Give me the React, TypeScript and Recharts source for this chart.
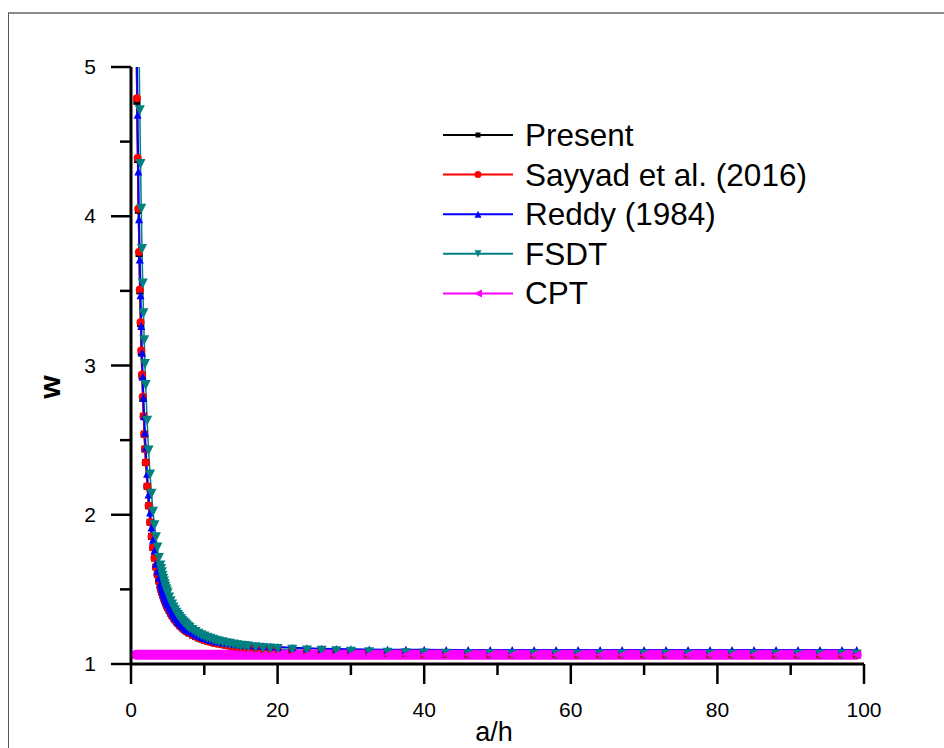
import React from "react";
import { LineChart, Line, XAxis, YAxis } from "recharts";

// a/h values (shared grid, denser where the curves bend)
const aH = [
  0.7, 0.8, 0.9, 1.0, 1.1, 1.2, 1.3, 1.4, 1.5, 1.6,
  1.7, 1.8, 1.9, 2.0, 2.2, 2.4, 2.6, 2.8, 3.0, 3.2,
  3.4, 3.6, 3.8, 4.0, 4.1, 4.2, 4.3, 4.4, 4.5, 4.6,
  4.7, 4.8, 4.9, 5.0, 5.2, 5.4, 5.6, 5.8, 6.0, 6.2,
  6.4, 6.6, 6.8, 7.0, 7.2, 7.4, 7.6, 7.8, 8.0, 8.4,
  8.8, 9.2, 9.6, 10, 10.4, 10.8, 11.2, 11.6, 12, 12.5,
  13, 13.5, 14, 14.5, 15, 15.5, 16, 17, 18, 19,
  20, 22, 24, 26, 28, 30, 32.5, 35, 37.5, 40,
  43, 46, 49, 52, 55, 58, 61, 64, 67, 70,
  73, 76, 79, 82, 85, 88, 91, 94, 97, 99,
];

const present = [
  5.25, 4.77, 4.38, 4.04, 3.75, 3.5, 3.28, 3.09, 2.93, 2.78,
  2.66, 2.54, 2.44, 2.35, 2.19, 2.06, 1.95, 1.855, 1.78, 1.71,
  1.65, 1.6, 1.556, 1.518, 1.5, 1.483, 1.467, 1.453, 1.439, 1.425,
  1.413, 1.401, 1.389, 1.379, 1.359, 1.341, 1.324, 1.309, 1.296, 1.283,
  1.272, 1.261, 1.251, 1.242, 1.234, 1.226, 1.219, 1.212, 1.206, 1.194,
  1.184, 1.175, 1.168, 1.16, 1.154, 1.149, 1.143, 1.139, 1.135, 1.13,
  1.126, 1.122, 1.118, 1.115, 1.113, 1.11, 1.108, 1.104, 1.1, 1.097,
  1.095, 1.091, 1.087, 1.085, 1.083, 1.08, 1.077, 1.074, 1.071, 1.069,
  1.067, 1.066, 1.065, 1.064, 1.064, 1.064, 1.064, 1.064, 1.064, 1.064,
  1.064, 1.064, 1.064, 1.064, 1.064, 1.064, 1.064, 1.064, 1.064, 1.064,
];

const sayyad = [
  5.27, 4.79, 4.39, 4.05, 3.76, 3.51, 3.29, 3.1, 2.94, 2.79,
  2.66, 2.54, 2.44, 2.35, 2.19, 2.06, 1.95, 1.855, 1.78, 1.71,
  1.65, 1.6, 1.556, 1.518, 1.5, 1.483, 1.467, 1.453, 1.439, 1.425,
  1.413, 1.401, 1.389, 1.379, 1.359, 1.341, 1.324, 1.309, 1.296, 1.283,
  1.272, 1.261, 1.251, 1.242, 1.234, 1.226, 1.219, 1.212, 1.206, 1.194,
  1.184, 1.175, 1.168, 1.16, 1.154, 1.149, 1.143, 1.139, 1.135, 1.13,
  1.126, 1.122, 1.118, 1.115, 1.113, 1.11, 1.108, 1.104, 1.1, 1.097,
  1.095, 1.091, 1.087, 1.085, 1.083, 1.08, 1.077, 1.074, 1.071, 1.069,
  1.067, 1.066, 1.065, 1.064, 1.064, 1.064, 1.064, 1.064, 1.064, 1.064,
  1.064, 1.064, 1.064, 1.064, 1.064, 1.064, 1.064, 1.064, 1.064, 1.064,
];

const reddy = [
  5.66, 5.125, 4.68, 4.3, 3.98, 3.71, 3.47, 3.265, 3.085, 2.925,
  2.785, 2.66, 2.55, 2.45, 2.275, 2.135, 2.015, 1.915, 1.833, 1.761,
  1.672, 1.622, 1.578, 1.54, 1.521, 1.504, 1.488, 1.473, 1.459, 1.445,
  1.432, 1.42, 1.408, 1.397, 1.377, 1.358, 1.341, 1.326, 1.312, 1.299,
  1.287, 1.276, 1.266, 1.257, 1.248, 1.24, 1.233, 1.226, 1.22, 1.208,
  1.198, 1.189, 1.181, 1.174, 1.168, 1.162, 1.157, 1.153, 1.149, 1.145,
  1.143, 1.139, 1.136, 1.133, 1.131, 1.129, 1.127, 1.123, 1.12, 1.117,
  1.114, 1.109, 1.105, 1.102, 1.1, 1.098, 1.097, 1.096, 1.095, 1.095,
  1.094, 1.094, 1.094, 1.094, 1.093, 1.093, 1.093, 1.093, 1.093, 1.093,
  1.093, 1.093, 1.093, 1.093, 1.093, 1.093, 1.093, 1.093, 1.093, 1.093,
];

const fsdt = [
  7.8, 6.93, 6.21, 5.62, 5.13, 4.71, 4.35, 4.05, 3.78, 3.55,
  3.35, 3.17, 3.01, 2.87, 2.63, 2.43, 2.27, 2.14, 2.02, 1.93,
  1.85, 1.78, 1.71, 1.66, 1.637, 1.614, 1.592, 1.572, 1.553, 1.535,
  1.518, 1.501, 1.486, 1.472, 1.445, 1.421, 1.399, 1.379, 1.36, 1.344,
  1.329, 1.315, 1.302, 1.29, 1.279, 1.269, 1.259, 1.25, 1.242, 1.227,
  1.214, 1.203, 1.193, 1.184, 1.176, 1.169, 1.162, 1.156, 1.151, 1.145,
  1.139, 1.135, 1.13, 1.126, 1.123, 1.12, 1.117, 1.112, 1.107, 1.104,
  1.1, 1.095, 1.091, 1.088, 1.085, 1.082, 1.078, 1.075, 1.072, 1.07,
  1.068, 1.066, 1.065, 1.064, 1.064, 1.064, 1.064, 1.064, 1.064, 1.064,
  1.064, 1.064, 1.064, 1.064, 1.064, 1.064, 1.064, 1.064, 1.064, 1.064,
];

const cpt = [
  1.062, 1.062, 1.062, 1.062, 1.062, 1.062, 1.062, 1.062, 1.062, 1.062,
  1.062, 1.062, 1.062, 1.062, 1.062, 1.062, 1.062, 1.062, 1.062, 1.062,
  1.062, 1.062, 1.062, 1.062, 1.062, 1.062, 1.062, 1.062, 1.062, 1.062,
  1.062, 1.062, 1.062, 1.062, 1.062, 1.062, 1.062, 1.062, 1.062, 1.062,
  1.062, 1.062, 1.062, 1.062, 1.062, 1.062, 1.062, 1.062, 1.062, 1.062,
  1.062, 1.062, 1.062, 1.062, 1.062, 1.062, 1.062, 1.062, 1.062, 1.062,
  1.062, 1.062, 1.062, 1.062, 1.062, 1.062, 1.062, 1.062, 1.062, 1.062,
  1.062, 1.062, 1.062, 1.062, 1.062, 1.062, 1.062, 1.062, 1.062, 1.062,
  1.062, 1.062, 1.062, 1.062, 1.062, 1.062, 1.062, 1.062, 1.062, 1.062,
  1.062, 1.062, 1.062, 1.062, 1.062, 1.062, 1.062, 1.062, 1.062, 1.062,
];

const xTicks = [0, 10, 20, 30, 40, 50, 60, 70, 80, 90, 100];
const yTicks = [1, 1.5, 2, 2.5, 3, 3.5, 4, 4.5, 5];

const series = [
  { key: "present", name: "Present", color: "#000000", shape: "square", size: 7, legendSize: 5 },
  { key: "sayyad", name: "Sayyad et al. (2016)", color: "#ff0000", shape: "circle", size: 8, legendSize: 7 },
  { key: "reddy", name: "Reddy (1984)", color: "#0000ff", shape: "up", size: 8, legendSize: 7 },
  { key: "fsdt", name: "FSDT", color: "#008080", shape: "down", size: 10, legendSize: 7 },
  { key: "cpt", name: "CPT", color: "#ff00ff", shape: "left", size: 9, legendSize: 8 },
];

const data = aH.map((x, i) => ({
  x,
  present: present[i],
  sayyad: sayyad[i],
  reddy: reddy[i],
  fsdt: fsdt[i],
  cpt: cpt[i],
}));

const FONT = '"Liberation Sans", Arial, Helvetica, sans-serif';

function Marker({ shape, cx, cy, size, color }: any) {
  if (cx == null || cy == null) return <g />;
  const h = size / 2;
  if (shape === "square") return <rect x={cx - h} y={cy - h} width={size} height={size} fill={color} />;
  if (shape === "circle") return <circle cx={cx} cy={cy} r={h} fill={color} />;
  let pts = "";
  if (shape === "up") pts = `${cx},${cy - h} ${cx + h},${cy + h} ${cx - h},${cy + h}`;
  if (shape === "down") pts = `${cx - h},${cy - h} ${cx + h},${cy - h} ${cx},${cy + h}`;
  if (shape === "left") pts = `${cx - h},${cy} ${cx + h},${cy - h} ${cx + h},${cy + h}`;
  return <polygon points={pts} fill={color} />;
}

function XTick(props: any) {
  const { x, y, payload } = props;
  const v = payload.value;
  const major = v % 20 === 0;
  return (
    <g>
      <line x1={x} x2={x} y1={y} y2={y + (major ? 20 : 11)} stroke="#000" strokeWidth={2.5} />
      {major && (
        <text x={x} y={y + 53} textAnchor="middle" fontSize={21} fontFamily={FONT} fill="#000">
          {v}
        </text>
      )}
    </g>
  );
}

function YTick(props: any) {
  const { x, y, payload } = props;
  const v = payload.value;
  const major = Number.isInteger(v);
  return (
    <g>
      <line x1={x} x2={x - (major ? 20 : 11)} y1={y} y2={y} stroke="#000" strokeWidth={2.5} />
      {major && (
        <text x={x - 35} y={y + 7} textAnchor="end" fontSize={21} fontFamily={FONT} fill="#000">
          {v}
        </text>
      )}
    </g>
  );
}

export default function App() {
  return (
    <div style={{ position: "absolute", left: 0, top: 0, width: 944, height: 748, overflow: "hidden", background: "#fff" }}>
      {/* frame of the original figure */}
      <div
        style={{
          position: "absolute", left: 8, top: 12, width: 1000, height: 800,
          borderTop: "2px solid #8a8a8a", borderLeft: "1.5px solid #555",
        }}
      />
      <div style={{ position: "absolute", left: 0, top: 0 }}>
        <LineChart width={944} height={748} data={data} margin={{ top: 67, right: 80, bottom: 24, left: 51 }}>
          <XAxis
            dataKey="x" type="number" domain={[0, 100]} ticks={xTicks} interval={0}
            tickLine={false} tickSize={0} tickMargin={0} height={60}
            axisLine={{ stroke: "#000", strokeWidth: 3 }}
            tick={(p: any) => <XTick {...p} />}
          />
          <YAxis
            type="number" domain={[1, 5]} allowDataOverflow ticks={yTicks} interval={0}
            tickLine={false} tickSize={0} tickMargin={0} width={80}
            axisLine={{ stroke: "#000", strokeWidth: 3 }}
            tick={(p: any) => <YTick {...p} />}
          />
          {series.map((s) => (
            <Line
              key={s.key}
              type="linear"
              dataKey={s.key}
              name={s.name}
              stroke={s.color}
              strokeWidth={s.key === "cpt" ? 10 : s.key === "reddy" ? 2 : 1.5}
              strokeLinecap="round"
              strokeLinejoin="round"
              activeDot={false}
              isAnimationActive={false}
              dot={(p: any) => (
                <Marker key={`${s.key}-${p.index}`} shape={s.shape} cx={p.cx} cy={p.cy} size={s.size} color={s.color} />
              )}
            />
          ))}
        </LineChart>
      </div>
      <svg width={944} height={748} style={{ position: "absolute", left: 0, top: 0, pointerEvents: "none" }}>
        <text x={60} y={387} transform="rotate(-90 60 387)" textAnchor="middle" fontSize={30} fontWeight="bold" fontFamily={FONT} fill="#000">
          w
        </text>
        <text x={494} y={741} textAnchor="middle" fontSize={27} fontFamily={FONT} fill="#000">
          a/h
        </text>
        {series.map((s, i) => {
          const y = 135 + i * 39.6;
          return (
            <g key={s.key}>
              <line x1={443} x2={513} y1={y} y2={y} stroke={s.color} strokeWidth={2} />
              <Marker shape={s.shape} cx={478} cy={y} size={s.legendSize} color={s.color} />
              <text x={525} y={y + 11} fontSize={31.5} fontFamily={FONT} fill="#000">
                {s.name}
              </text>
            </g>
          );
        })}
      </svg>
    </div>
  );
}
